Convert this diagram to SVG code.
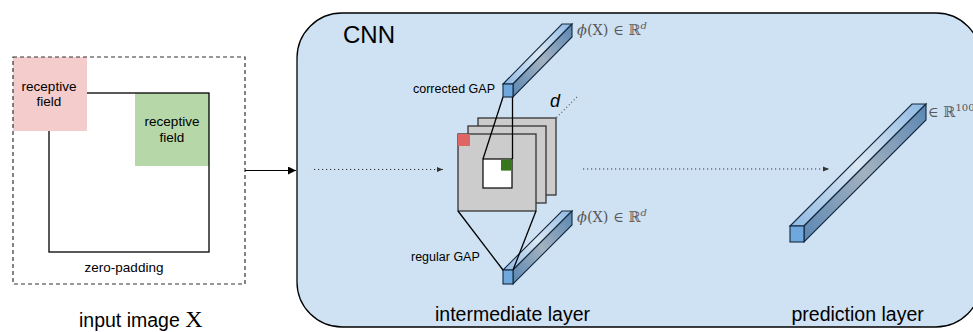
<svg xmlns="http://www.w3.org/2000/svg" width="973" height="332" viewBox="0 0 973 332">
<style>
.sans{font-family:"Liberation Sans",Arial,sans-serif;fill:#000}
.math{font-family:"DejaVu Serif","Liberation Serif",serif;fill:#595959}
.ln{stroke:#000;stroke-width:1.3;fill:none}
.map{fill:#cccccc;stroke:#333;stroke-width:1.3}
.front{fill:#6fa8dc;stroke:#14283d;stroke-width:1.1}
.top{fill:url(#gTop);stroke:#14283d;stroke-width:1.1}
.side{fill:url(#gSide);stroke:#14283d;stroke-width:1.1}
.dot{stroke:#333;stroke-width:1.2;stroke-dasharray:1.2 2.8;fill:none}
</style>
<defs>
<linearGradient id="gTop" x1="0" y1="1" x2="1" y2="0">
<stop offset="0" stop-color="#8fb9e3"/>
<stop offset="0.5" stop-color="#dce8f3"/>
<stop offset="1" stop-color="#8fb9e3"/>
</linearGradient>
<linearGradient id="gSide" x1="0" y1="1" x2="1" y2="0">
<stop offset="0" stop-color="#5a86b3"/>
<stop offset="0.5" stop-color="#a3b2bf"/>
<stop offset="1" stop-color="#5a86b3"/>
</linearGradient>
<marker id="ah" viewBox="0 0 10 10" refX="10" refY="5" markerWidth="8" markerHeight="8" markerUnits="userSpaceOnUse" orient="auto">
<path d="M0,0 L10,5 L0,10 z" fill="#000"/>
</marker>
<marker id="ahs" viewBox="0 0 10 10" refX="10" refY="5" markerWidth="6" markerHeight="6" markerUnits="userSpaceOnUse" orient="auto">
<path d="M0,1 L10,5 L0,9 z" fill="#333"/>
</marker>
</defs>

<g id="input-image">
<rect x="135" y="93" width="74" height="73" fill="#b6d7a8"/>
<rect x="49" y="93" width="160" height="159" class="ln"/>
<rect x="13" y="57" width="74" height="74" fill="#f4cccc"/>
<rect x="13" y="57" width="232" height="227" fill="none" stroke="#333" stroke-width="1.2" stroke-dasharray="4 3"/>
<text class="sans" font-size="13.5" text-anchor="middle" x="49" y="90.5">receptive</text>
<text class="sans" font-size="13.5" text-anchor="middle" x="49" y="106">field</text>
<text class="sans" font-size="13.5" text-anchor="middle" x="172" y="126">receptive</text>
<text class="sans" font-size="13.5" text-anchor="middle" x="172" y="142">field</text>
<text class="sans" font-size="13.5" text-anchor="middle" x="124" y="272">zero-padding</text>
<text class="sans" font-size="19.5" x="79" y="327">input image <tspan font-family="Liberation Serif,serif" font-size="24">X</tspan></text>
</g>

<g id="cnn">
<rect x="297" y="13" width="684" height="314" rx="45" ry="45" fill="#cfe2f3" stroke="#000" stroke-width="1.3"/>
<text class="sans" font-size="24" x="343" y="42.5">CNN</text>
<text class="sans" font-size="19.5" x="435" y="321">intermediate layer</text>
<text class="sans" font-size="19.5" x="791.5" y="321">prediction layer</text>
</g>

<g id="feature-maps">
<rect x="478" y="118" width="78" height="77" class="map"/>
<rect x="468" y="126" width="78" height="77" class="map"/>
<rect x="458" y="134" width="78" height="77" class="map"/>
<rect x="458" y="134" width="12" height="12" fill="#e06666"/>
<rect x="483" y="159" width="29" height="29" fill="#fff" stroke="#000" stroke-width="1.2"/>
<rect x="501" y="159.6" width="10.4" height="11" fill="#38761d"/>
<line x1="556.5" y1="117.5" x2="577" y2="97" stroke="#555" stroke-width="1.2" stroke-dasharray="1 2.5"/>
<text class="sans" font-size="18" font-style="italic" x="550" y="106.5">d</text>
</g>

<g id="corrected-gap">
<polygon class="top" points="503,84 513,84 572,24 562,24"/>
<polygon class="side" points="513,84 572,24 572,37 513,97"/>
<rect class="front" x="503" y="84" width="10" height="13"/>
<text class="sans" font-size="12.5" x="413" y="92.5">corrected GAP</text>
<text class="math" font-size="14.5" x="577" y="35"><tspan font-style="italic">ϕ</tspan>(X) ∈ ℝ<tspan font-size="10" font-style="italic" dy="-6">d</tspan></text>
</g>

<g id="regular-gap">
<polygon class="top" points="503,270 513,270 572,211 562,211"/>
<polygon class="side" points="513,270 572,211 572,225 513,284"/>
<rect class="front" x="503" y="270" width="10" height="14"/>
<text class="sans" font-size="12.5" x="411" y="261">regular GAP</text>
<text class="math" font-size="14.5" x="577" y="222"><tspan font-style="italic">ϕ</tspan>(X) ∈ ℝ<tspan font-size="10" font-style="italic" dy="-6">d</tspan></text>
</g>

<g id="prediction">
<polygon class="top" points="790,226 804,226 926,104 912,104"/>
<polygon class="side" points="804,226 926,104 926,120 804,242"/>
<rect class="front" x="790" y="226" width="14" height="16"/>
<text class="math" font-size="14.5" x="928" y="117">∈ ℝ<tspan font-size="10" dy="-6">100</tspan></text>
</g>

<g id="connectors">
<line x1="245" y1="170.5" x2="296" y2="170.5" stroke="#000" stroke-width="1.2" marker-end="url(#ah)"/>
<line x1="314" y1="169.5" x2="443" y2="169.5" class="dot" marker-end="url(#ahs)"/>
<line x1="583" y1="169" x2="829" y2="169" class="dot" marker-end="url(#ahs)"/>
<line x1="483" y1="159" x2="503" y2="97" class="ln"/>
<line x1="512.5" y1="159" x2="512.5" y2="97" class="ln"/>
<line x1="458" y1="211" x2="503" y2="270" class="ln"/>
<line x1="536" y1="211" x2="513" y2="270" class="ln"/>
</g>
</svg>
